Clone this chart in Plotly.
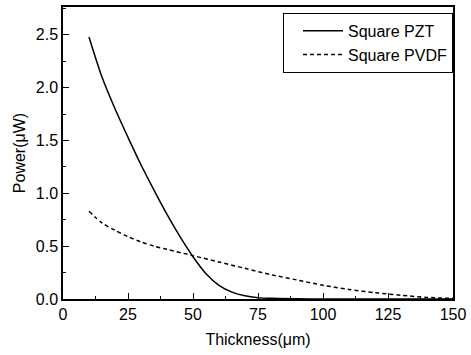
import plotly.graph_objects as go

# Data
pzt_x = [10, 15, 20, 25, 30, 35, 40, 45, 50, 55, 60, 65, 70, 75, 80, 90, 100, 110, 125, 150]
pzt_y = [2.48, 2.10, 1.80, 1.53, 1.27, 1.03, 0.80, 0.59, 0.40, 0.24, 0.13, 0.065, 0.03, 0.013, 0.006, 0.002, 0.0, 0.0, 0.0, 0.0]

pvdf_x = [10, 15, 20, 25, 30, 35, 40, 50, 60, 70, 80, 90, 100, 110, 120, 130, 140, 150]
pvdf_y = [0.83, 0.72, 0.65, 0.59, 0.54, 0.50, 0.47, 0.41, 0.35, 0.29, 0.23, 0.18, 0.13, 0.09, 0.06, 0.035, 0.015, 0.006]

names = ["Square PZT", "Square PVDF"]
x_ticks = [0, 25, 50, 75, 100, 125, 150]
y_ticks = [0.0, 0.5, 1.0, 1.5, 2.0, 2.5]

font = "Liberation Sans, Arial, sans-serif"

fig = go.Figure()
fig.add_trace(go.Scatter(x=pzt_x, y=pzt_y, mode="lines", name=names[0],
                         line=dict(color="black", width=1.5, shape="spline", smoothing=0.8)))
fig.add_trace(go.Scatter(x=pvdf_x, y=pvdf_y, mode="lines", name=names[1],
                         line=dict(color="black", width=1.5, dash="4px,3px", shape="spline", smoothing=0.8)))

axis_common = dict(showline=True, linecolor="black", linewidth=1.5, mirror=True,
                   ticks="inside", ticklen=6, tickwidth=1.2, tickcolor="black",
                   showgrid=False, zeroline=False, ticklabeloverflow="allow",
                   tickfont=dict(family=font, size=16, color="black"))

fig.update_xaxes(range=[0, 150], tickvals=x_ticks, ticktext=[str(v) for v in x_ticks],
                 minor=dict(dtick=12.5, tick0=0, ticks="inside", ticklen=3, tickcolor="black"),
                 title=dict(text="Thickness(μm)", font=dict(family=font, size=16, color="black"), standoff=12),
                 **axis_common)
fig.update_yaxes(range=[0, 2.763], tickvals=y_ticks, ticktext=[f"{v:.1f}" for v in y_ticks],
                 minor=dict(dtick=0.25, tick0=0, ticks="inside", ticklen=3, tickcolor="black"),
                 title=dict(text="Power(μW)", font=dict(family=font, size=16, color="black"), standoff=6),
                 **axis_common)

fig.update_layout(
    width=471, height=355,
    margin=dict(l=63, r=13, t=5, b=56),
    paper_bgcolor="white", plot_bgcolor="white",
    showlegend=True,
    legend=dict(x=1.0, y=0.98, xanchor="right", yanchor="top",
                bordercolor="black", borderwidth=1, bgcolor="white",
                font=dict(family=font, size=16, color="black"),
                tracegroupgap=0, itemwidth=40, indentation=14),
)

fig.write_html("out.html")
